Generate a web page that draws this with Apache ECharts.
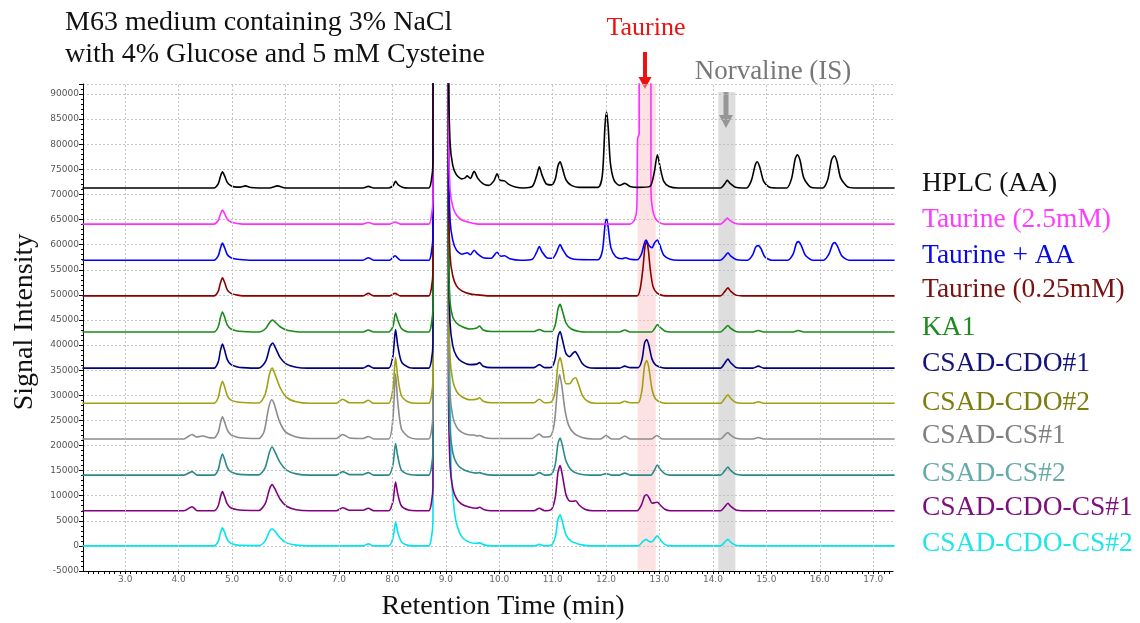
<!DOCTYPE html>
<html><head><meta charset="utf-8">
<script src="https://cdn.jsdelivr.net/npm/echarts@6/dist/echarts.min.js"></script>
<style>html,body{margin:0;padding:0;background:#fff}#c{width:1140px;height:623px}</style>
</head><body><div id="c"></div>
<script>
// ---- categories / labels ----
const seriesNames = ['HPLC (AA)','Taurine (2.5mM)','Taurine + AA','Taurine (0.25mM)','KA1','CSAD-CDO#1','CSAD-CDO#2','CSAD-CS#1','CSAD-CS#2','CSAD-CDO-CS#1','CSAD-CDO-CS#2'];
const lineColors  = ['#000000','#ff30ff','#0000ff','#8b0000','#1a8a1a','#000080','#a0a010','#8c8c8c','#2a8a8a','#800080','#00e5ee'];
const labelColors = ['#111111','#ff3cff','#0a0ae6','#7a1212','#1f8a1f','#14147a','#7d7d10','#808080','#66aaaa','#7d107d','#22e5e8'];
// vertical offset of each stacked chromatogram (signal units)
const baselineOffsets = [71300, 64100, 56900, 49800, 42600, 35400, 28400, 21300, 14100, 7000, 0];
const xTickLabels = [3,4,5,6,7,8,9,10,11,12,13,14,15,16,17];

// ---- chromatogram signals (retention time, signal above own baseline) ----
const hplcAA = [[2.2,0],[4.66,0],[4.74,800],[4.78,2200],[4.82,3200],[4.86,2400],[4.91,1100],[4.98,450],[5.1,150],[5.15,150],[5.25,400],[5.35,100],[5.7,0],[5.85,400],[6.0,0],[7.45,0],[7.55,300],[7.65,0],[7.93,0],[8.01,400],[8.06,1300],[8.11,600],[8.2,100],[8.3,0],[8.68,0],[8.73,1500],[8.76,5000],[8.78,250000],[9.02,250000],[9.05,25000],[9.08,9000],[9.13,4500],[9.2,2600],[9.3,1800],[9.36,2000],[9.4,2400],[9.46,1900],[9.53,3300],[9.6,1900],[9.7,800],[9.8,500],[9.9,1400],[9.96,2800],[10.02,1500],[10.1,1400],[10.18,700],[10.3,200],[10.45,0],[10.62,300],[10.7,2400],[10.75,4200],[10.8,2600],[10.88,800],[10.98,600],[11.05,1800],[11.1,4400],[11.14,5200],[11.18,4000],[11.25,1600],[11.35,500],[11.5,100],[11.85,100],[11.93,2500],[11.98,12500],[12.01,15100],[12.04,12000],[12.08,5000],[12.15,1500],[12.25,500],[12.35,900],[12.45,300],[12.6,100],[12.82,300],[12.9,3000],[12.96,6600],[13.01,4200],[13.08,1300],[13.18,300],[13.35,0],[14.14,0],[14.22,800],[14.27,1500],[14.32,900],[14.42,150],[14.55,0],[14.63,0],[14.72,1500],[14.79,4500],[14.83,5200],[14.88,4000],[14.95,1300],[15.05,200],[15.2,0],[15.38,0],[15.47,1800],[15.54,5800],[15.58,6600],[15.63,5500],[15.7,2000],[15.82,200],[15.95,0],[16.06,0],[16.15,1700],[16.22,5600],[16.27,6400],[16.32,5300],[16.39,2000],[16.52,200],[16.65,0],[17.4,0]];
const taurine25 = [[2.2,0],[4.66,0],[4.74,700],[4.78,1900],[4.82,2800],[4.86,2100],[4.91,950],[4.98,400],[5.1,100],[5.2,0],[7.45,0],[7.55,300],[7.65,0],[7.95,0],[8.05,400],[8.15,0],[8.68,0],[8.73,1500],[8.76,5000],[8.78,250000],[9.02,250000],[9.05,20000],[9.08,7000],[9.13,3500],[9.2,1800],[9.3,800],[9.45,300],[9.6,0],[12.45,0],[12.53,800],[12.575,3000],[12.59,17000],[12.62,18000],[12.63,250000],[12.83,250000],[12.84,6500],[12.87,3000],[12.92,1200],[13.0,300],[13.1,0],[14.14,0],[14.22,650],[14.27,1200],[14.32,700],[14.42,120],[14.55,0],[17.4,0]];
const taurineAA = [[2.2,0],[4.66,0],[4.74,850],[4.78,2300],[4.82,3400],[4.86,2500],[4.91,1150],[4.98,500],[5.1,200],[5.2,100],[5.4,0],[7.45,0],[7.55,500],[7.65,0],[7.95,0],[8.05,900],[8.15,0],[8.68,0],[8.73,1500],[8.76,5000],[8.78,250000],[9.02,250000],[9.05,22000],[9.08,8000],[9.13,4000],[9.2,2000],[9.3,1200],[9.4,1500],[9.46,1100],[9.53,2000],[9.6,1200],[9.7,500],[9.85,400],[9.96,1600],[10.03,800],[10.1,900],[10.2,300],[10.4,0],[10.62,200],[10.7,1600],[10.75,2700],[10.8,1700],[10.9,450],[11.0,400],[11.07,1500],[11.14,3100],[11.19,2100],[11.28,700],[11.4,200],[11.85,100],[11.93,1800],[11.98,7000],[12.01,8300],[12.04,6500],[12.09,2500],[12.18,700],[12.3,300],[12.36,500],[12.45,200],[12.58,100],[12.66,1200],[12.72,3500],[12.75,4000],[12.8,3000],[12.86,2500],[12.91,3500],[12.96,4000],[13.01,2900],[13.08,1000],[13.2,200],[13.35,0],[14.14,0],[14.22,750],[14.28,1500],[14.33,850],[14.43,150],[14.55,0],[14.65,0],[14.74,1000],[14.8,2600],[14.85,2900],[14.9,2300],[14.97,700],[15.1,0],[15.4,0],[15.5,1200],[15.56,3300],[15.6,3700],[15.65,3000],[15.73,1000],[15.87,0],[16.07,0],[16.17,1200],[16.24,3200],[16.28,3500],[16.33,2800],[16.41,900],[16.55,0],[17.4,0]];
const taurine025 = [[2.2,0],[4.66,0],[4.74,900],[4.78,2500],[4.82,3600],[4.86,2700],[4.91,1200],[4.98,500],[5.1,150],[5.2,0],[7.45,0],[7.55,500],[7.65,0],[7.95,0],[8.05,500],[8.15,0],[8.68,0],[8.73,1500],[8.76,5000],[8.78,250000],[9.02,250000],[9.05,22000],[9.08,8000],[9.13,4000],[9.2,2000],[9.3,1000],[9.45,400],[9.6,200],[9.8,0],[12.58,0],[12.64,1500],[12.69,5500],[12.73,10000],[12.76,10800],[12.79,9200],[12.83,5000],[12.88,1800],[12.95,600],[13.05,100],[13.2,0],[14.14,0],[14.22,850],[14.28,1600],[14.33,950],[14.43,150],[14.55,0],[17.4,0]];
const ka1 = [[2.2,0],[4.66,0],[4.74,1000],[4.78,2800],[4.82,4000],[4.86,3000],[4.91,1400],[4.98,600],[5.1,200],[5.2,100],[5.5,0],[5.63,700],[5.71,2000],[5.76,2400],[5.81,1950],[5.9,1050],[6.02,400],[6.2,50],[6.3,0],[7.45,0],[7.55,400],[7.65,0],[7.93,0],[8.01,1100],[8.06,3800],[8.1,2400],[8.17,700],[8.3,0],[8.68,0],[8.73,1500],[8.76,5000],[8.78,250000],[9.02,250000],[9.05,18000],[9.08,6000],[9.13,3000],[9.2,1800],[9.3,1100],[9.45,600],[9.58,800],[9.63,1200],[9.7,400],[9.85,100],[10.65,100],[10.75,500],[10.85,100],[10.98,100],[11.05,1500],[11.1,4600],[11.14,5500],[11.18,4300],[11.25,1800],[11.35,600],[11.5,100],[11.7,0],[12.25,0],[12.35,400],[12.45,0],[12.85,0],[12.91,700],[12.96,1500],[13.02,850],[13.1,200],[13.2,0],[14.14,0],[14.22,700],[14.28,1300],[14.33,750],[14.43,120],[14.55,0],[14.75,0],[14.85,300],[14.95,0],[15.5,0],[15.6,300],[15.7,0],[17.4,0]];
const csadCdo1 = [[2.2,0],[4.66,0],[4.74,1200],[4.78,3400],[4.82,4800],[4.86,3600],[4.91,1700],[4.98,700],[5.1,250],[5.2,100],[5.5,0],[5.63,1400],[5.71,4300],[5.76,5000],[5.81,4100],[5.9,2100],[6.02,800],[6.2,200],[6.4,0],[7.45,0],[7.55,500],[7.65,0],[7.93,0],[8.01,2400],[8.06,7700],[8.1,4600],[8.17,1300],[8.3,200],[8.45,0],[8.68,0],[8.73,1500],[8.76,5000],[8.78,250000],[9.02,250000],[9.05,24000],[9.08,9000],[9.13,4500],[9.2,2400],[9.3,1300],[9.45,700],[9.58,800],[9.63,1100],[9.7,400],[9.85,100],[10.65,100],[10.75,700],[10.85,100],[10.98,200],[11.05,2000],[11.1,6200],[11.14,7300],[11.18,5800],[11.25,2900],[11.32,2300],[11.38,3000],[11.42,3300],[11.47,2600],[11.55,1000],[11.65,200],[11.8,0],[12.25,0],[12.35,400],[12.45,100],[12.6,100],[12.67,1600],[12.72,5000],[12.76,5700],[12.8,4600],[12.86,1800],[12.93,600],[13.05,100],[13.2,0],[14.14,0],[14.22,1000],[14.28,1800],[14.33,1100],[14.43,150],[14.55,0],[14.75,0],[14.85,400],[14.95,0],[17.4,0]];
const csadCdo2 = [[2.2,0],[4.66,0],[4.74,1100],[4.78,3100],[4.82,4400],[4.86,3300],[4.91,1550],[4.98,650],[5.1,250],[5.2,150],[5.5,50],[5.62,1800],[5.7,5800],[5.75,7000],[5.8,5900],[5.9,3100],[6.02,1200],[6.2,300],[6.45,0],[6.95,0],[7.07,800],[7.2,100],[7.45,100],[7.55,600],[7.65,0],[7.93,0],[8.01,2800],[8.06,9100],[8.1,5400],[8.17,1500],[8.3,250],[8.45,0],[8.68,0],[8.73,1500],[8.76,5000],[8.78,250000],[9.02,250000],[9.05,24000],[9.08,9000],[9.13,4500],[9.2,2400],[9.3,1300],[9.45,700],[9.58,800],[9.63,1100],[9.7,400],[9.85,100],[10.65,100],[10.75,800],[10.85,100],[10.98,300],[11.05,2600],[11.1,7800],[11.14,9100],[11.18,7400],[11.25,3900],[11.32,3900],[11.38,4800],[11.43,5100],[11.48,3900],[11.56,1500],[11.67,300],[11.8,0],[12.25,0],[12.35,400],[12.45,100],[12.6,100],[12.67,2500],[12.72,7500],[12.76,8500],[12.8,7100],[12.86,2800],[12.93,800],[13.05,100],[13.2,0],[14.14,0],[14.22,950],[14.28,1700],[14.33,1000],[14.43,150],[14.55,0],[14.75,0],[14.85,300],[14.95,0],[17.4,0]];
const csadCs1 = [[2.2,0],[4.1,0],[4.18,500],[4.25,900],[4.33,400],[4.4,500],[4.46,600],[4.55,300],[4.66,200],[4.74,1300],[4.78,3100],[4.82,4400],[4.86,3400],[4.91,1800],[4.98,800],[5.1,350],[5.2,200],[5.5,100],[5.6,1500],[5.68,6000],[5.74,7800],[5.79,6900],[5.88,3700],[6.0,1400],[6.2,400],[6.45,100],[6.95,100],[7.07,900],[7.2,200],[7.45,100],[7.55,500],[7.65,0],[7.93,0],[8.01,4000],[8.06,13000],[8.1,7500],[8.17,2000],[8.3,400],[8.45,0],[8.68,0],[8.73,1500],[8.76,5000],[8.78,250000],[9.02,250000],[9.05,24000],[9.08,9000],[9.13,4500],[9.2,2400],[9.3,1300],[9.45,800],[9.53,800],[9.58,600],[9.63,700],[9.72,300],[9.85,100],[10.62,100],[10.7,700],[10.75,1000],[10.82,400],[10.95,500],[11.03,3000],[11.09,10000],[11.13,12900],[11.17,10700],[11.23,5800],[11.3,2700],[11.4,1100],[11.55,300],[11.75,0],[11.9,0],[12.0,700],[12.1,0],[12.25,0],[12.35,600],[12.45,0],[12.85,0],[12.95,700],[13.05,0],[14.14,0],[14.22,750],[14.28,1300],[14.33,750],[14.43,120],[14.55,0],[14.75,0],[14.85,300],[14.95,0],[17.4,0]];
const csadCs2 = [[2.2,0],[4.1,0],[4.25,700],[4.35,0],[4.66,0],[4.74,1050],[4.78,2950],[4.82,4200],[4.86,3150],[4.91,1500],[4.98,650],[5.1,200],[5.2,100],[5.5,50],[5.62,1500],[5.7,4600],[5.75,5600],[5.8,4700],[5.9,2500],[6.02,1000],[6.2,250],[6.45,0],[6.95,0],[7.07,700],[7.2,100],[7.45,100],[7.55,500],[7.65,0],[7.93,0],[8.01,2000],[8.06,6300],[8.1,3800],[8.17,1000],[8.3,150],[8.45,0],[8.68,0],[8.73,1500],[8.76,5000],[8.78,250000],[9.02,250000],[9.05,24000],[9.08,9000],[9.13,4500],[9.2,2400],[9.3,1300],[9.45,600],[9.58,400],[9.63,500],[9.72,200],[9.85,0],[10.65,0],[10.75,500],[10.85,0],[10.98,200],[11.05,2200],[11.1,6300],[11.14,7400],[11.18,6000],[11.25,2800],[11.35,1000],[11.5,200],[11.7,0],[11.9,0],[12.0,300],[12.1,0],[12.25,0],[12.35,400],[12.45,0],[12.84,0],[12.9,900],[12.96,2000],[13.01,1200],[13.1,250],[13.2,0],[14.14,0],[14.22,850],[14.28,1600],[14.33,950],[14.43,150],[14.55,0],[17.4,0]];
const csadCdoCs1 = [[2.2,0],[4.1,0],[4.25,800],[4.35,0],[4.66,0],[4.74,950],[4.78,2650],[4.82,3800],[4.86,2850],[4.91,1350],[4.98,550],[5.1,200],[5.2,100],[5.5,50],[5.62,1400],[5.7,4300],[5.75,5200],[5.8,4400],[5.9,2300],[6.02,900],[6.2,200],[6.45,0],[6.95,0],[7.07,600],[7.2,100],[7.45,100],[7.55,500],[7.65,0],[7.93,0],[8.01,1800],[8.06,5700],[8.1,3400],[8.17,950],[8.3,150],[8.45,0],[8.68,0],[8.73,1500],[8.76,5000],[8.78,250000],[9.02,250000],[9.05,24000],[9.08,9000],[9.13,4500],[9.2,2400],[9.3,1300],[9.45,700],[9.58,500],[9.63,700],[9.72,200],[9.85,0],[10.65,0],[10.75,500],[10.85,0],[10.98,300],[11.05,2700],[11.1,7700],[11.14,9000],[11.18,7200],[11.25,3200],[11.32,1900],[11.38,1900],[11.43,2000],[11.5,1100],[11.6,300],[11.75,0],[12.58,0],[12.66,1100],[12.72,2900],[12.76,3200],[12.81,2500],[12.86,1500],[12.91,1600],[12.96,1700],[13.02,1050],[13.1,300],[13.2,0],[14.14,0],[14.22,800],[14.28,1500],[14.33,900],[14.43,150],[14.55,0],[17.4,0]];
const csadCdoCs2 = [[2.2,0],[4.66,0],[4.74,900],[4.78,2500],[4.82,3600],[4.86,2700],[4.91,1250],[4.98,500],[5.1,150],[5.2,100],[5.5,50],[5.62,1000],[5.7,2900],[5.75,3400],[5.8,2950],[5.9,1600],[6.02,600],[6.2,150],[6.45,0],[7.45,0],[7.55,400],[7.65,0],[7.93,0],[8.01,1500],[8.06,4700],[8.1,2800],[8.17,800],[8.3,100],[8.45,0],[8.68,0],[8.73,1500],[8.76,5000],[8.78,250000],[9.02,250000],[9.05,60000],[9.1,15000],[9.15,8000],[9.2,4500],[9.3,1800],[9.45,700],[9.58,500],[9.63,600],[9.72,200],[9.85,0],[10.65,0],[10.75,300],[10.85,0],[10.98,200],[11.05,1800],[11.1,5300],[11.14,6200],[11.18,4900],[11.25,2200],[11.35,900],[11.45,500],[11.55,200],[11.7,0],[12.6,0],[12.69,900],[12.75,1300],[12.82,800],[12.87,900],[12.96,2000],[13.02,1150],[13.1,300],[13.2,0],[14.14,0],[14.22,750],[14.28,1300],[14.33,750],[14.43,120],[14.55,0],[17.4,0]];
const signals = [hplcAA, taurine25, taurineAA, taurine025, ka1, csadCdo1, csadCdo2, csadCs1, csadCs2, csadCdoCs1, csadCdoCs2];

// highlighted retention windows
const taurineWindow = [12.59, 12.93];
const norvalineWindow = [14.1, 14.42];
const norvalineBandTop = 90400;

// legend label vertical positions (px)
const labelY = [184, 220, 256, 290, 328, 364, 403, 436, 474, 508, 544];

const serif = "'Liberation Serif','Times New Roman',serif";
const chart = echarts.init(document.getElementById('c'), null, {renderer:'canvas'});

const xMin = 2.21, xMax = 17.37, yMin = -5000, yMax = 92000;
const minorTicks = [];
for (let i = 23; i <= 173; i++) minorTicks.push(i / 10);

const series = signals.map((sig, i) => ({
  name: seriesNames[i],
  type: 'line',
  data: sig.map(p => [p[0], p[1] + baselineOffsets[i]]),
  showSymbol: false,
  symbol: 'none',
  smooth: 0.25,
  clip: true,
  z: 3 + (signals.length - i) * 0.01,
  lineStyle: { color: lineColors[i], width: 1.6 },
  animation: false
}));

series.unshift({
  type: 'line', data: [], z: 1, silent: true, animation: false,
  markLine: {
    silent: true, symbol: 'none', animation: false,
    label: { show: false },
    lineStyle: { type: [2, 2], color: '#c4c4c4', width: 1 },
    data: xTickLabels.map(v => ({ xAxis: v }))
  },
  markArea: {
    silent: true, animation: false,
    data: [
      [{ xAxis: taurineWindow[0], yAxis: yMax, itemStyle: { color: 'rgba(248,190,190,0.45)' } }, { xAxis: taurineWindow[1], yAxis: yMin }],
      [{ xAxis: norvalineWindow[0], yAxis: norvalineBandTop, itemStyle: { color: 'rgba(190,190,190,0.5)' } }, { xAxis: norvalineWindow[1], yAxis: yMin }]
    ]
  }
});

const graphics = [
  { type: 'text', left: 65, top: 9, style: { text: 'M63 medium containing 3% NaCl', font: '28px ' + serif, fill: '#111' } },
  { type: 'text', left: 65, top: 41, style: { text: 'with 4% Glucose and 5 mM Cysteine', font: '28px ' + serif, fill: '#111' } },
  { type: 'text', x: 646, y: 28, style: { text: 'Taurine', font: '26px ' + serif, fill: '#ee1111', align: 'center', verticalAlign: 'middle' } },
  { type: 'text', x: 773, y: 72, style: { text: 'Norvaline (IS)', font: '27px ' + serif, fill: '#777777', align: 'center', verticalAlign: 'middle' } },
  { type: 'polygon', shape: { points: [[643,52],[647,52],[647,77],[651.5,77],[645,89],[638.5,77],[643,77]] }, style: { fill: '#ee1111' } },
  { type: 'polygon', shape: { points: [[723.5,92],[728.5,92],[728.5,115],[733,115],[726,128],[719,115],[723.5,115]] }, style: { fill: '#6e6e6e' } },
  { type: 'text', x: 503, y: 607, style: { text: 'Retention Time (min)', font: '28px ' + serif, fill: '#111', align: 'center', verticalAlign: 'middle' } },
  { type: 'text', x: 25, y: 322, rotation: Math.PI / 2, style: { text: 'Signal Intensity', font: '28px ' + serif, fill: '#111', align: 'center', verticalAlign: 'middle' } }
];
seriesNames.forEach((n, i) => {
  graphics.push({ type: 'text', x: 922, y: labelY[i], style: { text: n, font: '27.5px ' + serif, fill: labelColors[i], align: 'left', verticalAlign: 'middle' } });
});

chart.setOption({
  animation: false,
  backgroundColor: '#ffffff',
  grid: { left: 83, right: 247, top: 84, bottom: 52, containLabel: false },
  xAxis: {
    type: 'value', min: xMin, max: xMax,
    axisLine: { show: true, onZero: false, lineStyle: { color: '#000', width: 1 } },
    axisTick: { show: true, length: 3, customValues: minorTicks, lineStyle: { color: '#000' } },
    axisLabel: { customValues: xTickLabels, formatter: v => v.toFixed(1), color: '#666', fontSize: 9, fontFamily: 'DejaVu Sans', margin: 4 },
    splitLine: { show: false }
  },
  yAxis: {
    type: 'value', min: yMin, max: yMax, interval: 5000,
    axisLine: { show: true, lineStyle: { color: '#000', width: 1 } },
    axisTick: { show: true, length: 4, lineStyle: { color: '#000' } },
    minorTick: { show: true, splitNumber: 5, length: 2, lineStyle: { color: '#000' } },
    axisLabel: { color: '#555', fontSize: 9, fontFamily: 'DejaVu Sans', margin: 4, showMaxLabel: false, formatter: v => String(v) },
    splitLine: { show: true, lineStyle: { type: [2, 2], color: '#c4c4c4', width: 1 } }
  },
  series: series,
  graphic: graphics
});
</script></body></html>
